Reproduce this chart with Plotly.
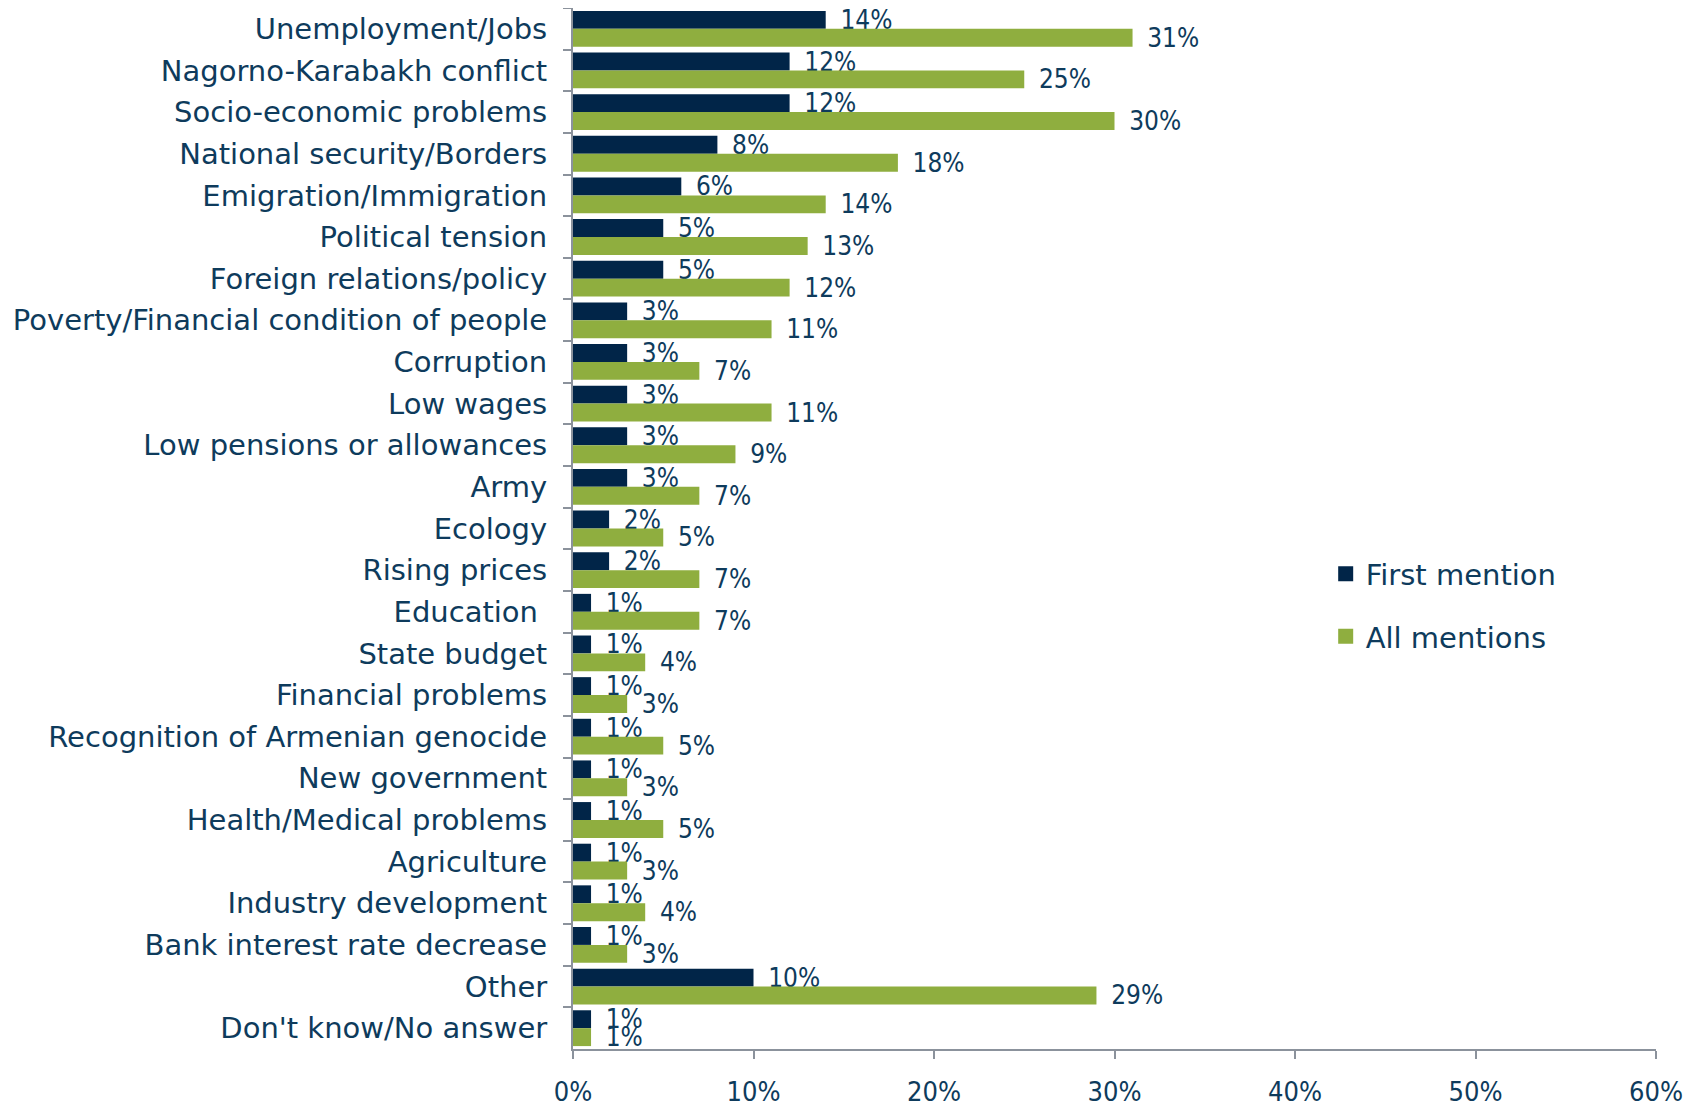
import plotly.graph_objects as go

categories = [
    "Unemployment/Jobs", "Nagorno-Karabakh conflict", "Socio-economic problems",
    "National security/Borders", "Emigration/Immigration", "Political tension",
    "Foreign relations/policy", "Poverty/Financial condition of people", "Corruption",
    "Low wages", "Low pensions or allowances", "Army", "Ecology", "Rising prices",
    "Education ", "State budget", "Financial problems", "Recognition of Armenian genocide",
    "New government", "Health/Medical problems", "Agriculture", "Industry development",
    "Bank interest rate decrease", "Other", "Don't know/No answer",
]
first_mention = [14, 12, 12, 8, 6, 5, 5, 3, 3, 3, 3, 3, 2, 2, 1, 1, 1, 1, 1, 1, 1, 1, 1, 10, 1]
all_mentions = [31, 25, 30, 18, 14, 13, 12, 11, 7, 11, 9, 7, 5, 7, 7, 4, 3, 5, 3, 5, 3, 4, 3, 29, 1]
x_ticks = [0, 10, 20, 30, 40, 50, 60]
x_tick_labels = ["0%", "10%", "20%", "30%", "40%", "50%", "60%"]

FONT = "DejaVu Sans, sans-serif"
NUM_FONT = "DejaVu Sans Condensed, DejaVu Sans, sans-serif"
TEXT_COLOR = "#0E3B5C"
DARK = "#012548"
GREEN = "#8FAE3F"
AXIS = "#8B929C"

fig = go.Figure()
fig.add_trace(go.Bar(
    y=categories, x=first_mention, orientation="h", name="First mention",
    marker=dict(color=DARK, line=dict(width=0)),
    text=[f"\u2002{v}%" for v in first_mention], textposition="outside",
    textfont=dict(family=NUM_FONT, size=26, color=TEXT_COLOR),
    constraintext="none", cliponaxis=False, showlegend=False,
))
fig.add_trace(go.Bar(
    y=categories, x=all_mentions, orientation="h", name="All mentions",
    marker=dict(color=GREEN, line=dict(width=0)),
    text=[f"\u2002{v}%" for v in all_mentions], textposition="outside",
    textfont=dict(family=NUM_FONT, size=26, color=TEXT_COLOR),
    constraintext="none", cliponaxis=False, showlegend=False,
))
# legend entries with square swatches
for name, color, grp in [("First mention", DARK, "a"), ("All mentions", GREEN, "b")]:
    fig.add_trace(go.Scatter(
        x=[None], y=[None], mode="markers", name=name, legendgroup=grp,
        marker=dict(symbol="square", size=15, color=color),
        showlegend=True,
    ))

fig.update_layout(
    width=1691, height=1110,
    margin=dict(l=565, r=43, t=0, b=69),
    paper_bgcolor="white", plot_bgcolor="white",
    barmode="group", bargap=0.14, bargroupgap=0,
    font=dict(family=FONT, size=29, color=TEXT_COLOR),
    showlegend=True,
    legend=dict(
        x=0.695, y=0.481, xanchor="left", yanchor="top",
        font=dict(family=FONT, size=29, color=TEXT_COLOR),
        tracegroupgap=22, bgcolor="rgba(0,0,0,0)", itemwidth=30,
    ),
    xaxis=dict(
        range=[0, 60], tickvals=x_ticks, ticktext=x_tick_labels,
        showgrid=False, zeroline=False, showline=True, linecolor=AXIS, linewidth=2,
        ticks="outside", ticklen=8, tickcolor=AXIS, tickwidth=2,
        ticklabelstandoff=10, automargin=False,
        tickfont=dict(family=NUM_FONT, size=27, color=TEXT_COLOR),
    ),
    yaxis=dict(
        autorange="reversed", showgrid=False, zeroline=False,
        showline=True, linecolor=AXIS, linewidth=2,
        ticks="outside", ticklen=8, tickcolor=AXIS, tickwidth=2,
        tickson="boundaries", ticklabelstandoff=18, automargin=False,
        tickfont=dict(family=FONT, size=29, color=TEXT_COLOR),
    ),
)

fig.write_html("out.html")
